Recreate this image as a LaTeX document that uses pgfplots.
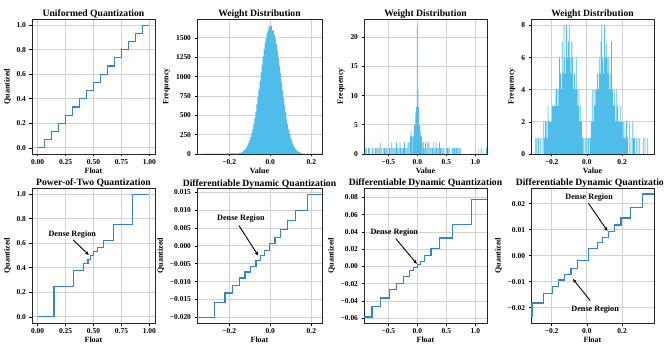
\documentclass[border=0pt]{standalone}
\usepackage{fontspec}
\setmainfont{Liberation Serif}
\usepackage{pgfplots}
\pgfplotsset{compat=1.18}
\usetikzlibrary{arrows.meta}

\definecolor{qline}{HTML}{3585C6}
\definecolor{hist}{HTML}{4FBDEA}
\definecolor{gridc}{HTML}{D2D2D2}

\tikzset{
  note/.style={font=\fontsize{8.2}{9}\selectfont\bfseries},
  pointer/.style={-{Stealth[length=4bp,width=3.5bp]}, line width=0.9bp},
}
\pgfplotsset{
  panel/.style={
    scale only axis, width=123bp, height=135bp, anchor=south west,
    scaled ticks=false,
    axis line style={black!85, line width=0.6bp},
    grid=major, major grid style={gridc, line width=0.8bp},
    tick align=outside, major tick length=2.5bp,
    tick style={black, line width=0.6bp},
    xtick pos=left, ytick pos=left,
    every axis title shift=0pt,
    title style={at={(0.5,1)}, anchor=base, yshift=2bp,
      font=\fontsize{9.7}{10}\selectfont\bfseries},
    label style={font=\fontsize{8}{9}\selectfont\bfseries},
    xlabel style={yshift=4bp},
    ylabel style={yshift=-1bp},
    tick label style={font=\fontsize{7.5}{8}\selectfont\bfseries},
  },
  quant/.style={panel, xlabel={Float}, ylabel={Quantized}},
  wdist/.style={panel, xlabel={Value}, ylabel={Frequency}, ymin=0,
    title={Weight Distribution}},
  qstep/.style={const plot, draw=qline, line width=1.2bp, no marks},
  bars/.style={ybar, fill=hist, draw=none, bar shift=0pt},
}

\begin{document}
\begin{tikzpicture}
\useasboundingbox (0,0) rectangle (664bp,349bp);

% ---------------- top row ----------------
\begin{axis}[quant, at={(32bp,195bp)},
  title={Uniformed Quantization},
  xmin=-0.05, xmax=1.05, ymin=-0.05, ymax=1.05,
  xtick={0,0.25,0.5,0.75,1}, xticklabels={0.00,0.25,0.50,0.75,1.00},
  ytick={0,0.2,0.4,0.6,0.8,1}, yticklabels={0.0,0.2,0.4,0.6,0.8,1.0}]
\addplot[qstep] coordinates {
  (0,0) (0.0625,0.0667) (0.125,0.1333) (0.1875,0.2) (0.25,0.2667)
  (0.3125,0.3333) (0.375,0.4) (0.4375,0.4667) (0.5,0.5333) (0.5625,0.6)
  (0.625,0.6667) (0.6875,0.7333) (0.75,0.8) (0.8125,0.8667) (0.875,0.9333)
  (0.9375,1.0) (1.0,1.0) };
\end{axis}

\begin{axis}[wdist, at={(197bp,195bp)}, width=125bp,
  xmin=-0.357, xmax=0.252, ymax=1744,
  xtick={-0.2,0,0.2}, xticklabels={−0.2,0.0,0.2},
  ytick={0,250,500,750,1000,1250,1500},
  yticklabels={0,250,500,750,1000,1250,1500}]
\addplot[ybar interval, fill=hist, draw=none] coordinates {
  (-0.357,3) (-0.33,4) (-0.30,5) (-0.27,5) (-0.24,6) (-0.21,7) (-0.19,8)
  (-0.1625,6) (-0.1575,8) (-0.1525,11) (-0.1475,15) (-0.1425,21) (-0.1375,28)
  (-0.1325,38) (-0.1275,50) (-0.1225,66) (-0.1175,86) (-0.1125,110) (-0.1075,140)
  (-0.1025,176) (-0.0975,218) (-0.0925,268) (-0.0875,325) (-0.0825,392)
  (-0.0775,465) (-0.0725,548) (-0.0675,640) (-0.0625,735) (-0.0575,835)
  (-0.0525,945) (-0.0475,1050) (-0.0425,1150) (-0.0375,1260) (-0.0325,1350)
  (-0.0275,1440) (-0.0225,1500) (-0.0175,1560) (-0.0125,1600) (-0.0075,1655)
  (-0.0025,1640) (0.0025,1660) (0.0075,1590) (0.0125,1600) (0.0175,1540)
  (0.0225,1490) (0.0275,1420) (0.0325,1340) (0.0375,1240) (0.0425,1140)
  (0.0475,1040) (0.0525,930) (0.0575,825) (0.0625,725) (0.0675,630)
  (0.0725,540) (0.0775,455) (0.0825,385) (0.0875,318) (0.0925,262)
  (0.0975,212) (0.1025,170) (0.1075,134) (0.1125,104) (0.1175,80)
  (0.1225,62) (0.1275,46) (0.1325,34) (0.1375,25) (0.1425,18) (0.1475,13)
  (0.1525,9) (0.1575,6) (0.1625,6) (0.19,5) (0.22,4) (0.252,4) };
\end{axis}

\begin{axis}[wdist, at={(364bp,195bp)},
  xmin=-0.919, xmax=1.2, ymax=23.1,
  xtick={-0.5,0,0.5,1}, xticklabels={−0.5,0.0,0.5,1.0},
  ytick={0,5,10,15,20}, yticklabels={0,5,10,15,20}]
\addplot[bars, bar width=0.012] coordinates {
  (-0.90,1) (-0.88,1) (-0.84,1) (-0.82,1) (-0.78,1) (-0.76,1) (-0.72,1)
  (-0.70,1) (-0.68,1) (-0.66,1) (-0.64,2) (-0.62,1) (-0.58,1) (-0.56,1)
  (-0.54,1) (-0.52,1) (-0.48,1) (-0.46,1) (-0.44,2) (-0.42,1) (-0.40,1)
  (-0.38,1) (-0.36,2) (-0.34,1) (-0.32,1) (-0.30,2) (-0.28,1) (-0.26,1)
  (-0.24,1) (-0.22,2) (-0.20,1) (-0.18,1) (-0.16,2) (-0.14,2) (-0.12,3)
  (-0.11,4) (-0.10,3) (-0.08,3) (-0.07,3) (-0.06,4) (-0.05,5) (-0.04,5)
  (-0.03,7) (-0.02,8) (-0.01,7) (0.00,22) (0.01,11) (0.02,8) (0.03,5)
  (0.04,5) (0.05,4) (0.06,3) (0.07,3) (0.08,2) (0.10,2) (0.12,1) (0.14,2)
  (0.16,1) (0.18,2) (0.20,2) (0.22,1) (0.24,1) (0.26,1) (0.28,2) (0.30,1)
  (0.32,2) (0.34,1) (0.36,1) (0.38,2) (0.40,1) (0.42,1) (0.44,1) (0.46,1)
  (0.50,1) (0.52,1) (0.54,1) (0.56,1) (0.60,1) (0.62,1) (0.64,1) (0.66,1)
  (0.68,1) (0.70,1) (0.72,1) (0.74,1) (1.06,1) (1.10,1) (1.19,1) };
\end{axis}

\begin{axis}[wdist, at={(531bp,195bp)},
  xmin=-0.317, xmax=0.381, ymax=8.4,
  xtick={-0.2,0,0.2}, xticklabels={−0.2,0.0,0.2},
  ytick={0,2,4,6,8}, yticklabels={0,2,4,6,8}]
\addplot[bars, bar width=0.0045] coordinates {
  (-0.290,1) (-0.283,1) (-0.275,1) (-0.265,1) (-0.255,1) (-0.245,2) (-0.240,1)
  (-0.235,2) (-0.230,2) (-0.225,1) (-0.220,3) (-0.215,2) (-0.210,2) (-0.205,2)
  (-0.200,2) (-0.195,3) (-0.190,3) (-0.185,3) (-0.180,3) (-0.175,4) (-0.170,4)
  (-0.165,3) (-0.160,4) (-0.155,6) (-0.150,5) (-0.145,4) (-0.140,7) (-0.135,5)
  (-0.130,8) (-0.125,6) (-0.120,5) (-0.115,8) (-0.110,6) (-0.105,7) (-0.100,8)
  (-0.095,6) (-0.090,5) (-0.085,7) (-0.080,6) (-0.075,4) (-0.070,5) (-0.065,4)
  (-0.060,6) (-0.055,4) (-0.050,3) (-0.045,4) (-0.040,2) (-0.035,3) (-0.030,2)
  (-0.025,1) (-0.020,1) (-0.010,1) (0.000,1) (0.010,1) (0.020,1) (0.025,2)
  (0.030,4) (0.035,2) (0.040,4) (0.045,3) (0.050,4) (0.055,4) (0.060,5)
  (0.065,4) (0.070,6) (0.075,5) (0.080,7) (0.085,8) (0.090,6) (0.095,5)
  (0.100,8) (0.105,6) (0.110,7) (0.115,6) (0.120,5) (0.125,6) (0.130,4)
  (0.135,5) (0.140,7) (0.145,4) (0.150,3) (0.155,4) (0.160,3) (0.165,2)
  (0.170,4) (0.175,3) (0.180,2) (0.185,2) (0.190,3) (0.195,2) (0.200,2)
  (0.205,1) (0.210,2) (0.215,1) (0.220,1) (0.225,2) (0.230,1) (0.240,2)
  (0.250,1) (0.260,2) (0.265,1) (0.270,1) (0.280,1) (0.290,1) (0.300,1)
  (0.320,1) (0.330,1) (0.345,1) };
\end{axis}

% ---------------- bottom row ----------------
\begin{axis}[quant, at={(32bp,26bp)},
  title={Power-of-Two Quantization},
  xmin=-0.05, xmax=1.05, ymin=-0.05, ymax=1.05,
  xtick={0,0.25,0.5,0.75,1}, xticklabels={0.00,0.25,0.50,0.75,1.00},
  ytick={0,0.2,0.4,0.6,0.8,1}, yticklabels={0.0,0.2,0.4,0.6,0.8,1.0}]
\addplot[qstep] coordinates {
  (0,0) (0.146,0.25) (0.321,0.375) (0.41,0.4375) (0.45,0.46875)
  (0.473,0.5) (0.503,0.53125) (0.539,0.5625) (0.586,0.625) (0.68,0.75)
  (0.85,1.0) (1.0,1.0) };
\draw[pointer] (axis cs:0.318,0.627) -- (axis cs:0.458,0.504);
\node[note] at (axis cs:0.31,0.673) {Dense Region};
\end{axis}

\begin{axis}[quant, at={(197bp,26bp)}, width=125bp,
  title={Differentiable Dynamic Quantization},
  xmin=-0.357, xmax=0.252, ymin=-0.0216, ymax=0.0162,
  xtick={-0.2,0,0.2}, xticklabels={−0.2,0.0,0.2},
  ytick={-0.02,-0.015,-0.01,-0.005,0,0.005,0.01,0.015},
  yticklabels={−0.020,−0.015,−0.010,−0.005,0.000,0.005,0.010,0.015}]
\addplot[qstep] coordinates {
  (-0.357,-0.0200) (-0.273,-0.0159) (-0.221,-0.0132) (-0.184,-0.0110)
  (-0.151,-0.0090) (-0.123,-0.0073) (-0.095,-0.0057) (-0.070,-0.0041)
  (-0.049,-0.0027) (-0.027,-0.0012) (-0.005,0.0006) (0.023,0.0024)
  (0.050,0.0046) (0.084,0.0070) (0.123,0.0099) (0.180,0.0143) (0.252,0.0143) };
\draw[pointer] (axis cs:-0.153,0.0057) -- (axis cs:-0.059,-0.0027);
\node[note] at (axis cs:-0.143,0.0076) {Dense Region};
\end{axis}

\begin{axis}[quant, at={(364bp,26bp)},
  title={Differentiable Dynamic Quantization},
  xmin=-0.919, xmax=1.2, ymin=-0.0656, ymax=0.0910,
  xtick={-0.5,0,0.5,1}, xticklabels={−0.5,0.0,0.5,1.0},
  ytick={-0.06,-0.04,-0.02,0,0.02,0.04,0.06,0.08},
  yticklabels={−0.06,−0.04,−0.02,0.00,0.02,0.04,0.06,0.08}]
\addplot[qstep] coordinates {
  (-0.919,-0.0586) (-0.78,-0.0462) (-0.633,-0.0365) (-0.485,-0.0272)
  (-0.365,-0.0194) (-0.234,-0.0113) (-0.137,-0.0047) (-0.063,-0.0010)
  (0.0,0.0025) (0.057,0.0060) (0.13,0.0130) (0.234,0.0205) (0.388,0.0330)
  (0.605,0.0485) (0.935,0.0775) (1.2,0.0775) };
\draw[pointer] (axis cs:-0.372,0.0323) -- (axis cs:-0.01,0.0031);
\node[note] at (axis cs:-0.397,0.039) {Dense Region};
\end{axis}

\begin{axis}[quant, at={(531bp,26bp)},
  title={Differentiable Dynamic Quantization},
  xmin=-0.317, xmax=0.381, ymin=-0.0259, ymax=0.0260,
  xtick={-0.2,0,0.2}, xticklabels={−0.2,0.0,0.2},
  ytick={-0.02,-0.01,0,0.01,0.02},
  yticklabels={−0.02,−0.01,0.00,0.01,0.02}]
\addplot[qstep] coordinates {
  (-0.317,-0.0235) (-0.311,-0.0182) (-0.245,-0.0145) (-0.194,-0.0118)
  (-0.160,-0.0094) (-0.128,-0.0073) (-0.090,-0.0050) (-0.053,-0.0020)
  (0.009,0.0028) (0.062,0.0052) (0.090,0.0071) (0.123,0.0094)
  (0.157,0.0118) (0.194,0.0145) (0.249,0.0185) (0.315,0.0237) (0.381,0.0237) };
\draw[pointer] (axis cs:0.009,0.0201) -- (axis cs:0.117,0.0095);
\node[note] at (axis cs:0.013,0.0224) {Dense Region};
\draw[pointer] (axis cs:0.019,-0.0173) -- (axis cs:-0.079,-0.0090);
\node[note] at (axis cs:0.047,-0.0209) {Dense Region};
\end{axis}
\end{tikzpicture}
\end{document}
